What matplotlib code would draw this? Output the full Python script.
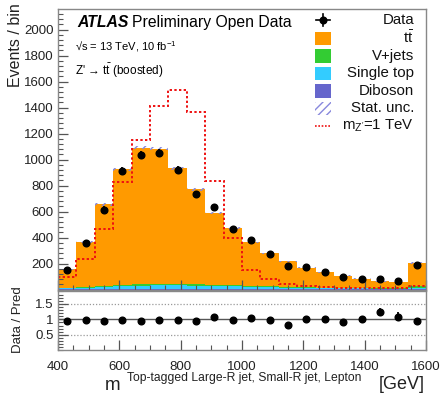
import numpy as np
import matplotlib
matplotlib.use("Agg")
import matplotlib.pyplot as plt
from matplotlib.patches import Rectangle
from matplotlib.lines import Line2D
from matplotlib.ticker import MultipleLocator

plt.rcParams['font.family'] = ['Liberation Sans', 'DejaVu Sans']
plt.rcParams['mathtext.fontset'] = 'custom'
plt.rcParams['mathtext.rm'] = 'Liberation Sans'
plt.rcParams['mathtext.it'] = 'Liberation Sans:italic'
plt.rcParams['mathtext.bf'] = 'Liberation Sans:bold'
plt.rcParams['hatch.linewidth'] = 1.0

# ---------------- data ----------------
bin_edges = [400, 460, 520, 580, 640, 700, 760, 820, 880, 940, 1000,
             1060, 1120, 1180, 1240, 1300, 1360, 1420, 1480, 1540, 1600]
data = [150, 360, 615, 915, 1035, 1050, 922, 732, 635, 465,
        378, 276, 178, 170, 133, 97, 82, 78, 62, 191]
ttbar = [141, 346, 630, 891, 1051, 1040, 889, 730, 553, 438,
         333, 252, 197, 150, 117, 93, 71, 53, 48, 175]
vjets = [4, 5, 6, 8, 9, 10, 10, 10, 9, 8, 8, 7, 6, 5, 4, 4, 3, 3, 3, 14]
single_top = [10, 14, 18, 24, 28, 30, 30, 28, 26, 24,
              20, 18, 14, 12, 10, 8, 7, 6, 5, 12]
diboson = [1, 1, 1, 2, 2, 2, 2, 2, 2, 2, 1, 1, 1, 1, 1, 1, 1, 1, 1, 2]
stat_unc = [5, 7, 9, 10, 11, 11, 10, 9, 8, 7, 6, 5, 5, 4, 4, 3, 3, 3, 3, 5]
signal = [97, 233, 469, 828, 1150, 1410, 1533, 1366, 833, 397,
          150, 80, 41, 30, 20, 15, 12, 10, 10, 25]

x_ticks = [400, 600, 800, 1000, 1200, 1400, 1600]
y_ticks = [200, 400, 600, 800, 1000, 1200, 1400, 1600, 1800, 2000]
r_ticks = [0.5, 1, 1.5]

c_tt = '#FF9A00'
c_vj = '#33CC33'
c_st = '#33CCFF'
c_db = '#6666CC'

W, H = 443, 399
def fx(px): return px / W
def fy(py): return 1 - py / H

fig = plt.figure(figsize=(W / 100, H / 100), dpi=100)

T = 9.0
main_bot = 289.5
ymax = (main_bot - T) / 0.13
ax = fig.add_axes([fx(58), fy(main_bot), (426 - 58) / W, (main_bot - T) / H])
rax = fig.add_axes([fx(58), fy(350.3), (426 - 58) / W, (350.3 - 290.5) / H])

edges = np.array(bin_edges, float)
centers = 0.5 * (edges[1:] + edges[:-1])
data_a = np.array(data, float)

# stack
layers = [(diboson, c_db), (single_top, c_st), (vjets, c_vj), (ttbar, c_tt)]
bottom = np.zeros(len(data))
for vals, col in layers:
    top = bottom + np.array(vals, float)
    ax.stairs(top, edges, baseline=bottom, fill=True, color=col, lw=0)
    bottom = top
pred = bottom

unc = np.array(stat_unc, float)
ax.stairs(pred + unc, edges, baseline=pred - unc, fill=True, facecolor='none',
          edgecolor='#8888DD', hatch='////', lw=0)

ax.stairs(signal, edges, baseline=None, color='#EE1111', ls=(0, (1.2, 1.2)), lw=1.4)

ax.errorbar(centers, data_a, yerr=np.sqrt(data_a), fmt='o', color='black',
            ms=4.8, elinewidth=1.3, capsize=0)

ax.set_xlim(400, 1600)
ax.set_ylim(0, ymax)
ax.set_yticks(y_ticks)
ax.yaxis.set_minor_locator(MultipleLocator(40))
ax.set_xticks(x_ticks)
ax.xaxis.set_minor_locator(MultipleLocator(50))
ax.tick_params(labelbottom=False)

# ratio
ratio = data_a / pred
rerr = np.sqrt(data_a) / pred
rax.axhline(1.0, color='#555555', lw=1.0, zorder=1)
for v in (0.5, 1.5):
    rax.axhline(v, color='#999999', lw=0.9, ls=(0, (1, 1.5)), zorder=1)
rax.errorbar(centers, ratio, yerr=rerr, fmt='o', color='black', ms=4.8,
             elinewidth=1.3, capsize=0, zorder=3)
rax.set_xlim(400, 1600)
rax.set_ylim(0, 1.93)
rax.set_yticks(r_ticks)
rax.set_yticklabels(['0.5', '1', '1.5'])
rax.yaxis.set_minor_locator(MultipleLocator(0.1))
rax.set_xticks(x_ticks)
rax.xaxis.set_minor_locator(MultipleLocator(50))

for a in (ax, rax):
    a.tick_params(which='both', direction='in', top=False, right=False,
                  color='#555555', labelsize=9.5, labelcolor='#222222')
    a.tick_params(which='major', length=7, width=0.9)
    a.tick_params(which='minor', length=3.5, width=0.8)
    for s in a.spines.values():
        s.set_color('#888888')
        s.set_linewidth(1.0)
rax.tick_params(axis='x', pad=8)
rax.tick_params(axis='y', pad=3)
ax.tick_params(axis='y', pad=3)

# axis labels
fig.text(fx(15), fy(3), 'Events / bin', rotation=90, ha='center', va='top',
         fontsize=11.5, color='#222222')
fig.text(fx(18), fy(320), 'Data / Pred', rotation=90, ha='center', va='center',
         fontsize=9.5, color='#222222')
fig.text(fx(105), fy(390), 'm', fontsize=13.5, va='baseline', ha='left', color='#222222')
fig.text(fx(127), fy(381), 'Top-tagged Large-R jet, Small-R jet, Lepton', fontsize=8.7,
         va='baseline', ha='left', color='#222222')
fig.text(fx(425), fy(389), '[GeV]', fontsize=13, va='baseline', ha='right', color='#222222')

# ATLAS labels
t = fig.text(fx(77), fy(27), 'ATLAS', fontsize=11.3, fontweight='bold', fontstyle='italic',
             va='baseline', ha='left')
fig.canvas.draw()
bb = t.get_window_extent()
fig.text(bb.x1 / W + 4 / W, fy(27), 'Preliminary Open Data', fontsize=11.3,
         va='baseline', ha='left')
fig.text(fx(75), fy(50), '\u221As = 13 TeV, 10 fb$^{\\mathregular{-1}}$', fontsize=8,
         va='baseline', ha='left')
fig.text(fx(75), fy(75), "Z' \u2192 t$\\bar{\\mathregular{t}}$ (boosted)", fontsize=8.5,
         va='baseline', ha='left')

# legend (manual, right-aligned text)
rows = [20, 38, 56, 73, 91, 108, 126]
labels = ['Data', 't$\\bar{\\mathregular{t}}$', 'V+jets', 'Single top', 'Diboson',
          'Stat. unc.', "m$_{\\mathregular{Z'}}$=1 TeV"]
mx = 323
for i, (py, lab) in enumerate(zip(rows, labels)):
    fig.text(fx(414), fy(py), lab, fontsize=10.8, ha='right', va='center', color='#111111')
    if i == 0:
        fig.add_artist(Line2D([fx(mx - 7), fx(mx + 7)], [fy(py), fy(py)], color='black',
                              lw=1.2, transform=fig.transFigure))
        fig.add_artist(Line2D([fx(mx), fx(mx)], [fy(py - 6), fy(py + 6)], color='black',
                              lw=1.2, transform=fig.transFigure))
        fig.add_artist(Line2D([fx(mx)], [fy(py)], marker='o', ms=4.8, color='black',
                              transform=fig.transFigure))
    elif i in (1, 2, 3, 4):
        col = [c_tt, c_vj, c_st, c_db][i - 1]
        fig.add_artist(Rectangle((fx(mx - 8), fy(py + 6.5)), 16 / W, 13 / H,
                                 transform=fig.transFigure, facecolor=col, edgecolor='none'))
    elif i == 5:
        fig.add_artist(Rectangle((fx(mx - 8), fy(py + 6.5)), 16 / W, 13 / H,
                                 transform=fig.transFigure, facecolor='none',
                                 edgecolor='#8888DD', hatch='////', lw=0))
    else:
        fig.add_artist(Line2D([fx(mx - 8), fx(mx + 8)], [fy(py), fy(py)], color='#EE1111',
                              lw=1.2, ls=(0, (1, 1)), transform=fig.transFigure))

fig.savefig('out.png', dpi=100)
